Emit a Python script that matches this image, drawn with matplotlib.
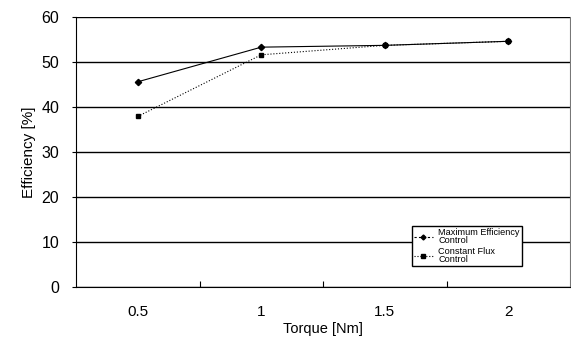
import matplotlib.pyplot as plt
from matplotlib.lines import Line2D

plt.rcParams['font.family'] = ['Liberation Sans', 'DejaVu Sans']

# data
torque = ['0.5', '1', '1.5', '2']
max_eff = [45.6, 53.3, 53.7, 54.6]
const_flux = [37.9, 51.6, 53.7, 54.6]

fig = plt.figure(figsize=(5.71, 3.4), dpi=100)
ax = fig.add_axes([76 / 571, 53 / 340, 494 / 571, 270 / 340])

x = range(len(torque))
ax.plot(x, max_eff, color='black', lw=0.8, marker='D', ms=3.2)
ax.plot(x, const_flux, color='black', lw=0.8, ls=':', marker='s', ms=3.5)

ax.set_xlim(-0.5, len(torque) - 0.5)
ax.set_ylim(0, 60)
ax.set_yticks(range(0, 61, 10))
ax.yaxis.grid(True, color='black', lw=1)
ax.set_axisbelow(True)

# category labels centred, ticks at the boundaries
ax.set_xticks([i + 0.5 for i in range(len(torque) - 1)])
ax.set_xticklabels([])
ax.tick_params(axis='x', direction='in', length=4)
ax.tick_params(axis='y', direction='out', length=3, pad=9, labelsize=11.5)
for i, t in enumerate(torque):
    ax.text(i, -5.6, t, ha='center', va='center', fontsize=11,
            transform=ax.transData, clip_on=False)

ax.spines['top'].set_visible(False)
ax.spines['right'].set_color('#777777')

ax.set_xlabel('Torque [Nm]', fontsize=10.5, labelpad=22)
ax.set_ylabel('Efficiency [%]', fontsize=11, labelpad=4)

handles = [Line2D([], [], color='black', lw=0.8, ls=(0, (2, 2)), marker='D', ms=2.5),
           Line2D([], [], color='black', lw=0.8, ls=':', marker='s', ms=2.5)]
leg = ax.legend(handles, ['Maximum Efficiency\nControl', 'Constant Flux\nControl'],
                loc='lower left', bbox_to_anchor=(336 / 494, 21 / 270), borderaxespad=0,
                fontsize=6.6, frameon=True, fancybox=False, edgecolor='black',
                framealpha=1, handlelength=2.0, borderpad=0.25, labelspacing=0.15,
                handletextpad=0.6)
for t in leg.get_texts():
    t.set_linespacing(0.85)

fig.savefig('out.png', dpi=100)
